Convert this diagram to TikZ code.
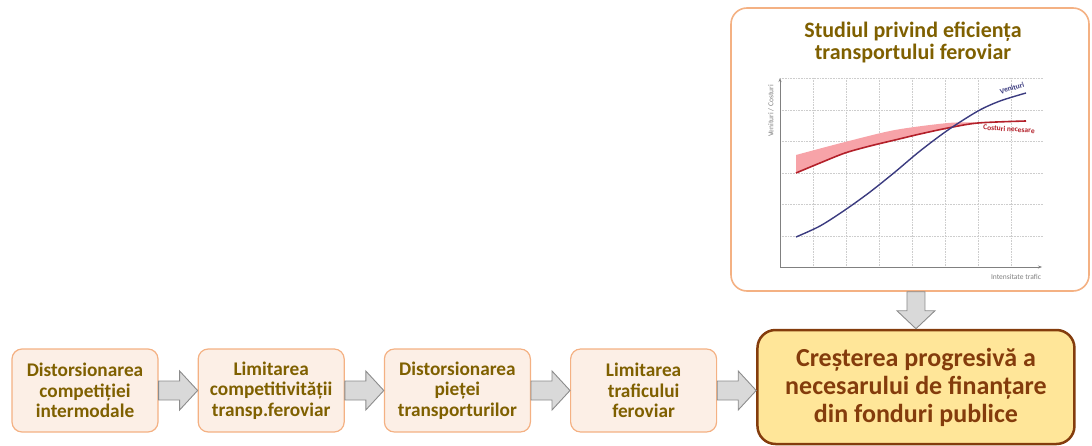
\documentclass[tikz,border=0pt]{standalone}
\usepackage{fontspec}
\setmainfont{Carlito}
\usetikzlibrary{positioning,calc,arrows.meta}
\definecolor{boxfill}{HTML}{FCEFE6}
\definecolor{boxline}{HTML}{F4B183}
\definecolor{textgold}{HTML}{7F6000}
\definecolor{mainfill}{HTML}{FFE699}
\definecolor{mainbrown}{HTML}{843C0C}
\definecolor{arrowfill}{HTML}{D9D9D9}
\definecolor{arrowline}{HTML}{8C8C8C}
\definecolor{venit}{HTML}{3B3B80}
\definecolor{cost}{HTML}{B3202A}
\definecolor{band}{HTML}{F7A3A8}
\definecolor{gridgrey}{HTML}{CDCDCD}
\tikzset{
  cause/.style={draw=boxline,fill=boxfill,line width=1.2pt,rounded corners=10pt,
    minimum width=146pt,minimum height=83pt,inner sep=0pt,align=center,
    text=textgold,font=\fontsize{19.3}{20.5}\selectfont\bfseries},
  result/.style={draw=mainbrown,fill=mainfill,line width=2.5pt,rounded corners=18pt,
    minimum width=317pt,minimum height=114pt,inner sep=0pt,align=center,
    text=mainbrown,font=\fontsize{26}{28}\selectfont\bfseries},
  panel/.style={draw=boxline,fill=white,line width=1.6pt,rounded corners=16pt,
    minimum width=358pt,minimum height=283pt},
  paneltitle/.style={align=center,text=textgold,font=\fontsize{22}{22}\selectfont\bfseries},
  blockarrow/.style={draw=arrowline,fill=arrowfill,line width=0.9pt},
  chartgrid/.style={gridgrey,densely dotted,line width=0.6pt},
  chartaxis/.style={draw=gray,line width=0.9pt,-{Stealth[length=4pt,width=3pt]}},
  chartlabel/.style={font=\fontsize{7.5}{8}\selectfont,inner sep=0pt}
}
\newcommand{\harrow}[2]{\path[blockarrow] let \p1=(#1.east), \p2=(#2.west) in
  (\x1,\y1+9.5pt) -- (\x2-18pt,\y1+9.5pt) -- (\x2-18pt,\y1+19.5pt) -- (\x2,\y1)
  -- (\x2-18pt,\y1-19.5pt) -- (\x2-18pt,\y1-9.5pt) -- (\x1,\y1-9.5pt) -- cycle;}
\newcommand{\varrow}[2]{\path[blockarrow] let \p1=(#1.south), \p2=(#2.north) in
  (\x2-9pt,\y1) -- (\x2-9pt,\y2+18pt) -- (\x2-19pt,\y2+18pt) -- (\x2,\y2)
  -- (\x2+19pt,\y2+18pt) -- (\x2+9pt,\y2+18pt) -- (\x2+9pt,\y1) -- cycle;}

\begin{document}
\begin{tikzpicture}[x=1pt,y=-1pt,node distance=39pt]
  \useasboundingbox (0,0) rectangle (1092,446);
  \node[cause] (cause1) at (85,390.5) {Distorsionarea\\competiției\\intermodale};
  \node[cause,right=of cause1] (cause2) {Limitarea\\competitivității\\transp.feroviar};
  \node[cause,right=of cause2] (cause3) {Distorsionarea\\pieței\\transporturilor};
  \node[cause,right=of cause3] (cause4) {Limitarea\\traficului\\feroviar};
  \node[result,right=of cause4,yshift=3.5pt] (crestere) {Creșterea progresivă a\\necesarului de finanțare\\din fonduri publice};
  \node[panel] (studiu) at (910,149.5) {};
  \node[paneltitle] (titlu) at (913,42) {Studiul privind eficiența\\transportului feroviar};
  \harrow{cause1}{cause2}
  \harrow{cause2}{cause3}
  \harrow{cause3}{cause4}
  \harrow{cause4}{crestere}
  \varrow{studiu}{crestere}
  \coordinate (origine) at (780,267);
  \foreach \gx in {813,846,...,1011}
    \draw[chartgrid] (\gx,78) -- (\gx,267);
  \foreach \gy in {78,110,141,173,204,236}
    \draw[chartgrid] (780,\gy) -- (1043,\gy);
  \fill[band] plot[smooth] coordinates {(796,155) (845,142) (895,130) (948,123) (975,122.5)}
    -- plot[smooth] coordinates {(975,123) (948,128) (920,134) (895,140) (870,146) (845,153) (820,163) (796,173)} -- cycle;
  \draw[cost,line width=1.6pt] plot[smooth] coordinates {(796,173) (820,163) (845,153) (870,146) (895,140) (920,134) (948,128) (978,123) (1026,121)};
  \draw[venit,line width=1.4pt] plot[smooth] coordinates {(796,237) (820,226) (845,210) (870,192) (895,172) (920,151) (948,130) (978,111) (1000,101) (1026,93)};
  \draw[chartaxis] (origine) -- (780,78);
  \draw[chartaxis] (origine) -- (1042,267);
  \node[chartlabel,text=venit,rotate=17] (venituri) at (1012,88) {\bfseries Venituri};
  \node[chartlabel,text=cost,rotate=-4] (costuri) at (1009,129) {\bfseries Costuri necesare};
  \node[chartlabel,text=gray,rotate=90] (axay) at (771,111) {Venituri / Costuri};
  \node[chartlabel,text=gray] (axax) at (1016,277) {Intensitate trafic};
\end{tikzpicture}
\end{document}
